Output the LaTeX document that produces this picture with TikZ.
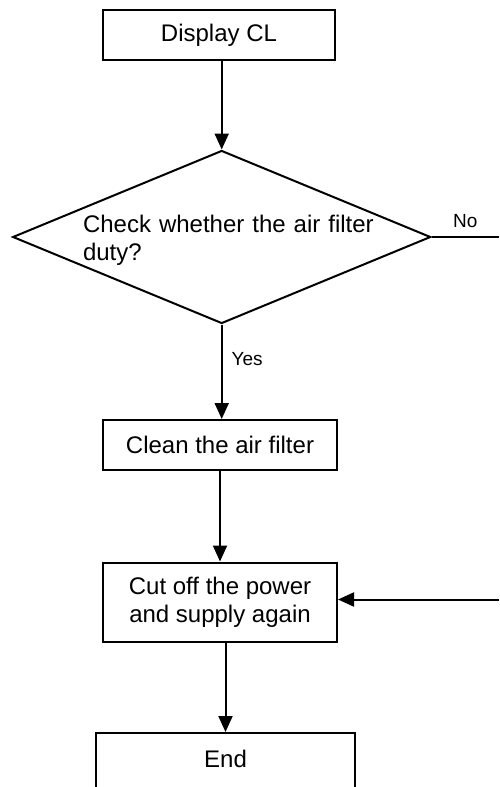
\documentclass[tikz,border=0pt]{standalone}
\usepackage{fontspec}
\setmainfont{Liberation Sans}
\usetikzlibrary{shapes.geometric,arrows.meta}
\begin{document}
\begin{tikzpicture}[x=1pt,y=-1pt,
  line width=2pt,
  box/.style={draw, line width=2pt, inner sep=0pt, align=center,
    font=\fontsize{24}{28}\selectfont},
  arr/.style={draw, line width=2pt, -{Triangle[length=16pt,width=14pt]}},
  plain/.style={draw, line width=2pt},
  lbl/.style={inner sep=0pt, font=\fontsize{19}{22}\selectfont}]
\useasboundingbox (0,0) rectangle (499,787);

\node[box, minimum width=232pt, minimum height=50pt] (disp) at (219,35) {Display CL};
\node[draw, line width=2pt, diamond, shape aspect=2.42, minimum width=418pt, minimum height=173pt, inner sep=0pt] (dec) at (221.7,237) {};
\node[inner sep=0pt, anchor=north west, text width=300pt, align=left,
  font=\fontsize{24}{28}\selectfont] (dectxt) at (82,214) {Check whether the air filter\\duty?};
\node[box, minimum width=234pt, minimum height=50pt] (clean) at (220,445) {Clean the air filter};
\node[box, minimum width=234pt, minimum height=79pt] (cut) at (220,602) {Cut off the power\\and supply again};
\node[draw, line width=2pt, inner sep=0pt, anchor=north, minimum width=259pt,
  text height=34pt, text depth=40pt, font=\fontsize{24}{28}\selectfont] (endn) at (225.5,732) {End};

\coordinate (noend) at (499,237);
\coordinate (retstart) at (499,599.5);

\path[arr] (disp.south -| dec.north) -- (dec.north);
\path[arr] (dec.south) -- node[lbl, anchor=west, xshift=9pt, pos=0.37] (yes) {Yes} (clean.north -| dec.south);
\path[arr] (clean.south) -- (cut.north);
\path[arr] (cut.south -| endn.north) -- (endn.north);
\path[plain] (dec.east) -- node[lbl, above, yshift=8pt] (no) {No} (noend);
\path[arr] (retstart) -- (retstart -| cut.east);
\end{tikzpicture}
\end{document}
